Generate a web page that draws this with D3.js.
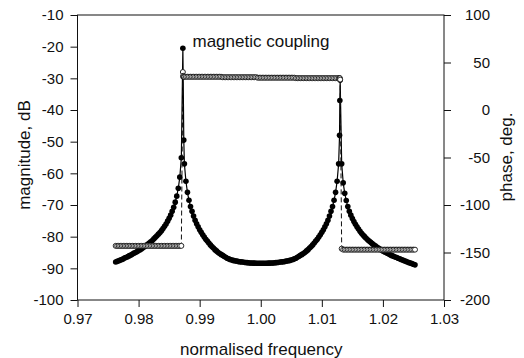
<!DOCTYPE html>
<html><head><meta charset="utf-8">
<script src="https://cdn.jsdelivr.net/npm/d3@7"></script>
<style>
html,body{margin:0;padding:0;background:#fff;}
svg{display:block;}
text{font-family:"Liberation Sans",Arial,Helvetica,sans-serif;fill:#111;}
</style>
</head><body><svg id="chart" width="524" height="358"></svg>
<script>
// normalised frequency samples
const freq = [
0.97625,0.9765,0.97675,0.977,0.97725,0.9775,0.97775,0.978,
0.97825,0.9785,0.97875,0.979,0.97925,0.9795,0.97975,0.98,
0.98025,0.9805,0.98075,0.981,0.98125,0.9815,0.98175,0.982,
0.98225,0.9825,0.98275,0.983,0.98325,0.9835,0.98375,0.984,
0.98425,0.9845,0.98475,0.985,0.98525,0.9855,0.98575,0.986,
0.98625,0.9865,0.98675,0.987,0.98725,
0.9873,0.9874,
0.9875,0.98775,0.988,0.98825,0.9885,0.98875,0.989,0.98925,0.9895,0.98975,0.99,
0.99025,0.9905,0.99075,0.991,0.99125,0.9915,0.99175,0.992,
0.99225,0.9925,0.99275,0.993,0.99325,0.9935,0.99375,0.994,
0.99425,0.9945,0.99475,0.995,0.99525,0.9955,0.99575,0.996,
0.99625,0.9965,0.99675,0.997,0.99725,0.9975,0.99775,0.998,
0.99825,0.9985,0.99875,0.999,0.99925,0.9995,0.99975,1.0,
1.00025,1.0005,1.00075,1.001,1.00125,1.0015,1.00175,1.002,
1.00225,1.0025,1.00275,1.003,1.00325,1.0035,1.00375,1.004,
1.00425,1.0045,1.00475,1.005,1.00525,1.0055,1.00575,1.006,
1.00625,1.0065,1.00675,1.007,1.00725,1.0075,1.00775,1.008,
1.00825,1.0085,1.00875,1.009,1.00925,1.0095,1.00975,1.01,
1.01025,1.0105,1.01075,1.011,1.01125,1.0115,1.01175,1.012,
1.01225,1.0125,1.01275,
1.0129,1.01295,
1.013,
1.01325,1.0135,1.01375,1.014,1.01425,1.0145,1.01475,1.015,
1.01525,1.0155,1.01575,1.016,1.01625,1.0165,1.01675,1.017,
1.01725,1.0175,1.01775,1.018,1.01825,1.0185,1.01875,1.019,
1.01925,1.0195,1.01975,1.02,1.02025,1.0205,1.02075,1.021,
1.02125,1.0215,1.02175,1.022,1.02225,1.0225,1.02275,1.023,
1.02325,1.0235,1.02375,1.024,1.02425,1.0245,1.02475,1.025,
1.02525
];

// magnitude, dB (filled circles)
const magnitude = [
-88.0,-87.8,-87.6,-87.4,-87.2,-87.0,-86.7,-86.5,
-86.3,-86.0,-85.8,-85.5,-85.2,-85.0,-84.7,-84.4,
-84.1,-83.8,-83.4,-83.1,-82.7,-82.4,-82.0,-81.6,
-81.2,-80.7,-80.2,-79.7,-79.2,-78.7,-78.1,-77.4,
-76.7,-76.0,-75.1,-74.2,-73.2,-72.0,-70.7,-69.1,
-67.2,-64.7,-61.2,-55.1,-20.5,
-29.5,-49.5,
-57.0,-62.5,-66.0,-68.5,-70.5,-72.0,-73.5,-74.8,-75.9,-76.9,-77.8,
-78.6,-79.4,-80.1,-80.8,-81.4,-82.0,-82.6,-83.1,
-83.6,-84.1,-84.5,-84.9,-85.3,-85.6,-85.9,-86.2,
-86.5,-86.8,-87.0,-87.2,-87.35,-87.5,-87.6,-87.7,
-87.8,-87.9,-87.95,-88.0,-88.1,-88.15,-88.2,-88.25,
-88.3,-88.3,-88.35,-88.35,-88.4,-88.4,-88.4,-88.4,
-88.4,-88.4,-88.4,-88.4,-88.35,-88.35,-88.3,-88.3,
-88.25,-88.2,-88.15,-88.1,-88.0,-87.95,-87.9,-87.8,
-87.7,-87.6,-87.5,-87.35,-87.2,-87.0,-86.8,-86.5,
-86.2,-85.9,-85.6,-85.3,-84.9,-84.5,-84.1,-83.6,
-83.1,-82.6,-82.0,-81.4,-80.8,-80.1,-79.4,-78.6,
-77.8,-76.9,-75.9,-74.8,-73.5,-72.0,-70.5,-68.5,
-66.0,-62.5,-57.0,
-48.0,-37.0,
-30.5,
-57.0,-63.0,-66.3,-68.6,-70.5,-72.0,-73.2,-74.3,
-75.2,-76.1,-76.9,-77.6,-78.3,-78.9,-79.5,-80.0,
-80.5,-81.0,-81.4,-81.8,-82.2,-82.6,-82.9,-83.3,
-83.6,-83.9,-84.2,-84.5,-84.8,-85.0,-85.3,-85.5,
-85.8,-86.0,-86.2,-86.4,-86.6,-86.8,-87.0,-87.2,
-87.4,-87.6,-87.8,-88.0,-88.2,-88.35,-88.5,-88.7,
-88.9
];

// phase, deg. (open circles)
const phase = [
-143,-143,-143,-143,-143,-143,-143,-143,
-143,-143,-143,-143,-143,-143,-143,-143,
-143,-143,-143,-143,-143,-143,-143,-143,
-143,-143,-143,-143,-143,-143,-143,-143,
-143,-143,-143,-143,-143,-143,-143,-143,
-143,-143,-143,-143,40,
36,35,
35,35,35,35,35,35,35,35,35,35,35,
35,35,35,35,35,35,35,35,
35,35,35,35,35,35,34.5,34.5,
34.5,34.5,34.5,34.5,34.5,34.5,34.5,34.5,
34.5,34.5,34.5,34.5,34.5,34.5,34.5,34.5,
34.5,34.5,34.5,34.5,34.5,34,34,34,
34,34,34,34,34,34,34,34,
34,34,34,34,34,34,34,34,
34,34,34,34,34,34,33.5,33.5,
33.5,33.5,33.5,33.5,33.5,33.5,33.5,33.5,
33.5,33.5,33.5,33.5,33.5,33.5,33.5,33.5,
33.5,33.5,33.5,33.5,33.5,33.5,33.5,33.5,
33.5,33.5,33.5,
33.5,33.5,
32,
-146,-147,-147,-147,-147,-147,-147,-147,
-147,-147,-147,-147,-147,-147,-147,-147,
-147,-147,-147,-147,-147,-147,-147,-147,
-147,-147,-147,-147,-147,-147,-147,-147,
-147,-147,-147,-147,-147,-147,-147,-147,
-147,-147,-147,-147,-147,-147,-147,-147,
-147
];

const xTicks = [0.97, 0.98, 0.99, 1.00, 1.01, 1.02, 1.03];
const magTicks = [-100, -90, -80, -70, -60, -50, -40, -30, -20, -10];
const phaseTicks = [-200, -150, -100, -50, 0, 50, 100];
const xTitle = "normalised frequency";
const magTitle = "magnitude, dB";
const phaseTitle = "phase, deg.";
const annotation = "magnetic coupling";

const svg = d3.select("#chart");
svg.append("rect").attr("width", 524).attr("height", 358).attr("fill", "#fff");

const plotL = 77.5, plotR = 444, plotT = 15, plotB = 300;
const x = d3.scaleLinear().domain([0.97, 1.03]).range([plotL, plotR]);
const yM = d3.scaleLinear().domain([-100, -10]).range([plotB, plotT]);
const yP = d3.scaleLinear().domain([-200, 100]).range([plotB, plotT]);

const tickFont = "15px";
const intFmt = d => String(d); // plain hyphen-minus, as in the original

// axes
const gx = svg.append("g").attr("transform", `translate(0,${plotB})`)
  .call(d3.axisBottom(x).tickValues(xTicks).tickFormat(d3.format(".2f")).tickSize(7).tickSizeOuter(0).tickPadding(6));
const gl = svg.append("g").attr("transform", `translate(${plotL},0)`)
  .call(d3.axisLeft(yM).tickValues(magTicks).tickFormat(intFmt).tickSize(7).tickSizeOuter(0).tickPadding(7));
const gr = svg.append("g").attr("transform", `translate(${plotR},0)`)
  .call(d3.axisRight(yP).tickValues(phaseTicks).tickFormat(intFmt).tickSize(7).tickSizeOuter(0).tickPadding(7));
gr.selectAll(".tick text").attr("text-anchor", "end").attr("x", 46);
[gx, gl, gr].forEach(g => {
  g.select(".domain").remove();
  g.selectAll(".tick line").attr("stroke", "#111").attr("stroke-width", 1);
  g.selectAll(".tick text").attr("font-size", tickFont).attr("fill", "#111")
    .attr("font-family", '"Liberation Sans",Arial,Helvetica,sans-serif');
});

// frame
svg.append("rect").attr("x", plotL).attr("y", plotT).attr("width", plotR - plotL).attr("height", plotB - plotT)
  .attr("fill", "none").attr("stroke", "#111").attr("stroke-width", 1);

// titles
svg.append("text").attr("x", (plotL + plotR) / 2 + 0.5).attr("y", 355).attr("text-anchor", "middle")
  .attr("font-size", "17px").text(xTitle);
svg.append("text").attr("transform", "translate(30,155) rotate(-90)").attr("text-anchor", "middle")
  .attr("font-size", "17px").text(magTitle);
svg.append("text").attr("transform", "translate(512,157) rotate(-90)").attr("text-anchor", "middle")
  .attr("font-size", "17px").text(phaseTitle);
svg.append("text").attr("x", 192.5).attr("y", 47).attr("font-size", "17px").text(annotation);

const n = Math.min(freq.length, magnitude.length, phase.length);
const magData = d3.range(n).map(i => ({f: freq[i], v: magnitude[i]}));
const phData = d3.range(n).map(i => ({f: freq[i], v: phase[i]}));

// magnitude line + filled dots
svg.append("path").datum(magData)
  .attr("d", d3.line().x(d => x(d.f)).y(d => yM(d.v)))
  .attr("fill", "none").attr("stroke", "#000").attr("stroke-width", 1.2);
svg.append("g").selectAll("circle").data(magData).join("circle")
  .attr("cx", d => x(d.f)).attr("cy", d => yM(d.v)).attr("r", 2.8).attr("fill", "#000");

// phase dashed line + open circles
svg.append("path").datum(phData)
  .attr("d", d3.line().x(d => x(d.f)).y(d => yP(d.v)))
  .attr("fill", "none").attr("stroke", "#111").attr("stroke-width", 1).attr("stroke-dasharray", "5,3");
svg.append("g").selectAll("circle").data(phData).join("circle")
  .attr("cx", d => x(d.f)).attr("cy", d => yP(d.v)).attr("r", 2.5)
  .attr("fill", "#fff").attr("stroke", "#111").attr("stroke-width", 0.9);
</script>
</body></html>
